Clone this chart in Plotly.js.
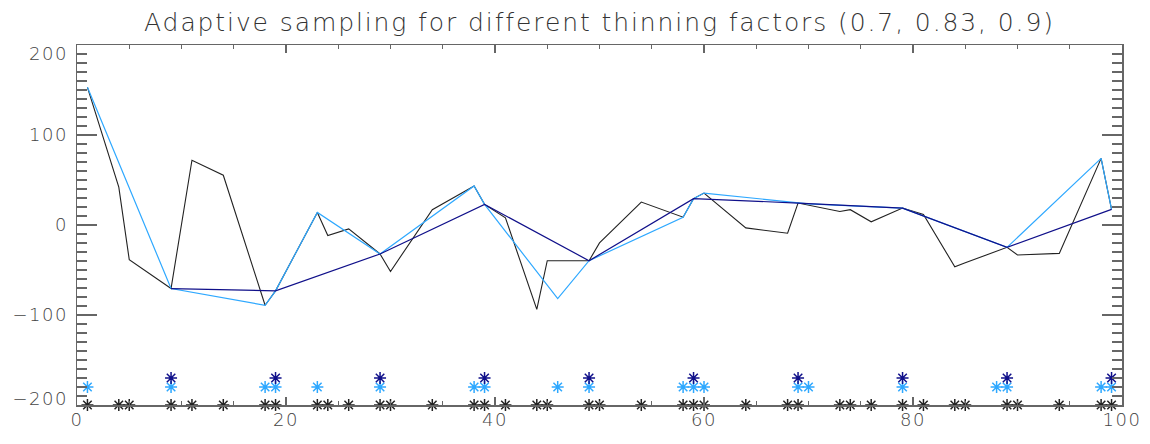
<!DOCTYPE html>
<html>
<head>
<meta charset="utf-8">
<script src="https://cdn.plot.ly/plotly-3.0.1.min.js"></script>
<style>
html,body{margin:0;padding:0;background:#fff;}
#plot{width:1150px;height:444px;}
#plot text.gtitle{letter-spacing:1.9px;}
#plot g.xtick text, #plot g.ytick text{letter-spacing:1.5px;}
</style>
</head>
<body>
<div id="plot"></div>
<script>
// Full sampling (thinning factor 0.7) - black
const xBlack = [1,4,5,9,11,14,18,19,23,24,26,29,30,34,38,39,41,44,45,49,50,54,58,59,60,64,68,69,73,74,76,79,81,84,85,89,90,94,98,99];
const yBlack = [153,42,-38.5,-70.6,72,55.3,-89.2,-73.2,14,-11.7,-4.3,-32.2,-51.6,17,43.4,22.9,8,-93.7,-39.7,-39.7,-19.9,25.5,8.7,29.3,35.5,-3.2,-9.1,24.4,15,17,3.6,18.8,11.7,-46.4,-42,-24.8,-33.3,-31.5,74,17.3];
// Thinning factor 0.83 - light blue
const xLight = [1,9,18,19,23,29,38,39,46,49,58,59,60,69,70,79,88,89,98,99];
const yLight = [153,-70.6,-89.2,-73.2,14,-32.2,43.4,22.9,-81.8,-39.7,8.7,29.3,35.5,24.4,23.5,18.8,-21,-24.8,74,17.3];
// Thinning factor 0.9 - navy
const xNavy = [9,19,29,39,49,59,69,79,89,99];
const yNavy = [-70.6,-73.2,-32.2,22.9,-39.7,29.3,24.4,18.8,-24.8,17.3];
// Star rows marking sample positions
const starLevelBlack = -200, starLevelLight = -180, starLevelNavy = -170;

const cBlack = '#222222', cLight = '#2ea8ff', cNavy = '#10108a';

function stars(xs, level, color) {
  return {x: xs, y: xs.map(() => level), mode: 'markers', type: 'scatter', cliponaxis: false,
    marker: {symbol: 'asterisk-open', size: 10, color: color, line: {color: color, width: 1.5}}, hoverinfo: 'skip'};
}

const traces = [
  {x: xBlack, y: yBlack, mode: 'lines', type: 'scatter', line: {color: cBlack, width: 1.1}},
  {x: xLight, y: yLight, mode: 'lines', type: 'scatter', line: {color: cLight, width: 1.2}},
  {x: xNavy, y: yNavy, mode: 'lines', type: 'scatter', line: {color: cNavy, width: 1.2}},
  stars(xBlack, starLevelBlack, cBlack),
  stars(xLight, starLevelLight, cLight),
  stars(xNavy, starLevelNavy, cNavy)
];

const fontFam = '"DejaVu Sans", sans-serif';
const axisCol = '#666666';

const layout = {
  width: 1150, height: 444,
  margin: {l: 77, r: 28, t: 44.5, b: 39},
  paper_bgcolor: '#fff', plot_bgcolor: '#fff',
  showlegend: false,
  title: {text: 'Adaptive sampling for different thinning factors (0.7, 0.83, 0.9)',
    font: {family: fontFam, size: 25, color: '#333', weight: 200},
    x: 0.5, xref: 'paper', xanchor: 'center', y: 0.95, yref: 'container', yanchor: 'middle'},
  xaxis: {range: [0, 100], tickvals: [0,20,40,60,80,100], ticks: 'inside', ticklen: 8, tickcolor: axisCol, tickwidth: 1.2,
    minor: {dtick: 5, tick0: 0, ticks: 'inside', ticklen: 4, tickcolor: axisCol, tickwidth: 1.2},
    showline: true, linecolor: axisCol, linewidth: 1.5, mirror: 'allticks', showgrid: false, zeroline: false,
    ticklabelstandoff: -2,
    tickfont: {family: fontFam, size: 18, color: '#444', weight: 200}},
  yaxis: {range: [-200, 200], tickvals: [-200,-100,0,100,200], ticks: 'inside', ticklen: 20, tickcolor: axisCol, tickwidth: 1.2,
    minor: {dtick: 10, tick0: 0, ticks: 'inside', ticklen: 10, tickcolor: axisCol, tickwidth: 1.2},
    showline: true, linecolor: axisCol, linewidth: 1.5, mirror: 'allticks', showgrid: false, zeroline: false,
    ticklabelstandoff: 4,
    tickfont: {family: fontFam, size: 18, color: '#444', weight: 200}}
};

Plotly.newPlot('plot', traces, layout, {staticPlot: true, displayModeBar: false}).then(function (gd) {
  // keep the end labels inside the axis span, as in the reference
  gd.querySelectorAll('g.ytick text').forEach(function (t) {
    const s = t.textContent.trim();
    let dy = 0;
    if (s === '200') dy = 9;
    else if (s === '\u2212200' || s === '-200') dy = -6;
    if (dy) t.setAttribute('y', (parseFloat(t.getAttribute('y')) || 0) + dy);
  });
});
</script>
</body>
</html>
